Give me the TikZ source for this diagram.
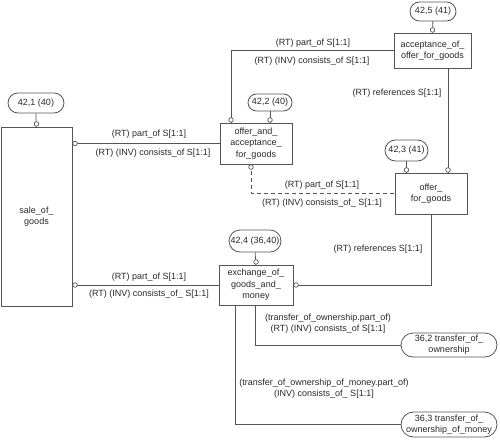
\documentclass[tikz,border=0pt]{standalone}
\usepackage{fontspec}
\setmainfont{Liberation Sans}
\usetikzlibrary{shapes.misc,calc}
\definecolor{lncol}{RGB}{85,85,85}
\definecolor{txcol}{RGB}{40,40,40}
\tikzset{
  ebox/.style={draw=lncol,line width=0.8pt,text=txcol,align=center,inner sep=1pt,font=\fontsize{9}{11.5}\selectfont},
  pill/.style={rounded rectangle,draw=lncol,line width=0.8pt,text=txcol,align=center,inner sep=1pt,font=\fontsize{9}{11}\selectfont},
  lbl/.style={text=txcol,inner sep=0.5pt,align=center,font=\fontsize{9}{11}\selectfont},
  ring/.style={circle,draw=lncol,fill=white,line width=0.7pt,inner sep=0pt,minimum size=4.6pt},
  conn/.style={draw=lncol,line width=0.8pt}
}
\begin{document}
\begin{tikzpicture}[x=1pt,y=1pt,yscale=-1,xscale=1]
    \useasboundingbox (0,0) rectangle (500,441);
    %Shape: Rectangle [sale of goods]
    \node [ebox,minimum width=71pt,minimum height=179pt] (sog) at (36.5,216.5) {sale\_of\_\\goods};
    %Shape: Rectangle [offer and acceptance]
    \node [ebox,minimum width=72pt,minimum height=41pt] (oaa) at (256,143.5) {offer\_and\_\\acceptance\_\\for\_goods};
    %Shape: Rectangle [acceptance of offer]
    \node [ebox,minimum width=77pt,minimum height=35pt] (acc) at (432.5,50.5) {acceptance\_of\_\\offer\_for\_goods};
    %Shape: Rectangle [offer for goods]
    \node [ebox,minimum width=72pt,minimum height=41pt] (ofg) at (431,193.5) {offer\_\\for\_goods};
    %Shape: Rectangle [exchange]
    \node [ebox,minimum width=74pt,minimum height=40pt] (exg) at (256,285) {exchange\_of\_\\goods\_and\_\\money};

    %Shape: Pills
    \node [pill,minimum width=58pt,minimum height=20pt] (p421) at (36,103) {42,1 (40)};
    \node [pill,minimum width=46pt,minimum height=17pt] (p422) at (270,102.5) {42,2 (40)};
    \node [pill,minimum width=45pt,minimum height=21pt] (p423) at (406.5,150.5) {42,3 (41)};
    \node [pill,minimum width=48pt,minimum height=19pt] (p425) at (433,11.5) {42,5 (41)};
    \node [pill,minimum width=54pt,minimum height=22pt] (p424) at (255,241) {42,4 (36,40)};
    \node [pill,minimum width=98pt,minimum height=24pt] (p362) at (449,345) {36,2 transfer\_of\_\\ownership};
    \node [pill,minimum width=98pt,minimum height=25pt] (p363) at (449,424.5) {36,3 transfer\_of\_\\ownership\_of\_money};

    %Straight Lines
    \draw [conn] (p421) -- (sog);
    \draw [conn] (p422.south) -- (p422.south |- oaa.north);
    \draw [conn] (p423.south) -- (p423.south |- ofg.north);
    \draw [conn] (p425) -- (acc);
    \draw [conn] (p424) -- (exg);
    \draw [conn] (sog.east |- oaa.west) -- (oaa.west);
    \draw [conn] (sog.east |- exg.west) -- (exg.west);
    \draw [conn] (acc.west) -| ([xshift=-25pt]oaa.north);
    \draw [conn] ([xshift=15.5pt]acc.south) -- ([xshift=15.5pt]acc.south |- ofg.north);
    \draw [conn,dashed,dash pattern=on 4pt off 3pt] ([xshift=-5pt]oaa.south) |- (ofg.west);
    \draw [conn] (ofg.south) |- (exg.east);
    \draw [conn] ([xshift=-1pt]exg.south) |- (p362.west);
    \draw [conn] ([xshift=-21pt]exg.south) |- (p363.west);

    %Small circles
    \node [ring,anchor=south] (r1) at (sog.north) {};
    \node [ring,anchor=west] (r2) at (sog.east |- oaa.west) {};
    \node [ring,anchor=west] (r3) at (sog.east |- exg.west) {};
    \node [ring,anchor=south] (r4) at ([xshift=-25pt]oaa.north) {};
    \node [ring,anchor=south] (r5) at (p422.south |- oaa.north) {};
    \node [ring,anchor=north] (r6) at ([xshift=-5pt]oaa.south) {};
    \node [ring,anchor=south] (r7) at (p423.south |- ofg.north) {};
    \node [ring,anchor=south] (r8) at ([xshift=15.5pt]acc.south |- ofg.north) {};
    \node [ring,anchor=south] (r9) at (acc.north) {};
    \node [ring,anchor=south] (r10) at (exg.north) {};
    \node [ring,anchor=west] (r11) at (exg.east) {};

    % Text Node
    \node [lbl] (t1) at (149,134) {(RT) part\_of S[1:1]};
    \node [lbl] (t2) at (153,153) {(RT) (INV) consists\_of S[1:1]};
    \node [lbl] (t3) at (149,277) {(RT) part\_of S[1:1]};
    \node [lbl] (t4) at (149,294) {(RT) (INV) consists\_of\_ S[1:1]};
    \node [lbl] (t5) at (313,43) {(RT) part\_of S[1:1]};
    \node [lbl] (t6) at (312,61) {(RT) (INV) consists\_of S[1:1]};
    \node [lbl] (t7) at (397,93) {(RT) references S[1:1]};
    \node [lbl] (t8) at (322,185) {(RT) part\_of S[1:1]};
    \node [lbl] (t9) at (322,203) {(RT) (INV) consists\_of\_ S[1:1]};
    \node [lbl] (t10) at (378,249) {(RT) references S[1:1]};
    \node [lbl] (t11) at (328,323.5) {(transfer\_of\_ownership.part\_of)\\(RT) (INV) consists\_of S[1:1]};
    \node [lbl] (t12) at (324,388.5) {(transfer\_of\_ownership\_of\_money.part\_of)\\(INV) consists\_of\_ S[1:1]};
\end{tikzpicture}
\end{document}
